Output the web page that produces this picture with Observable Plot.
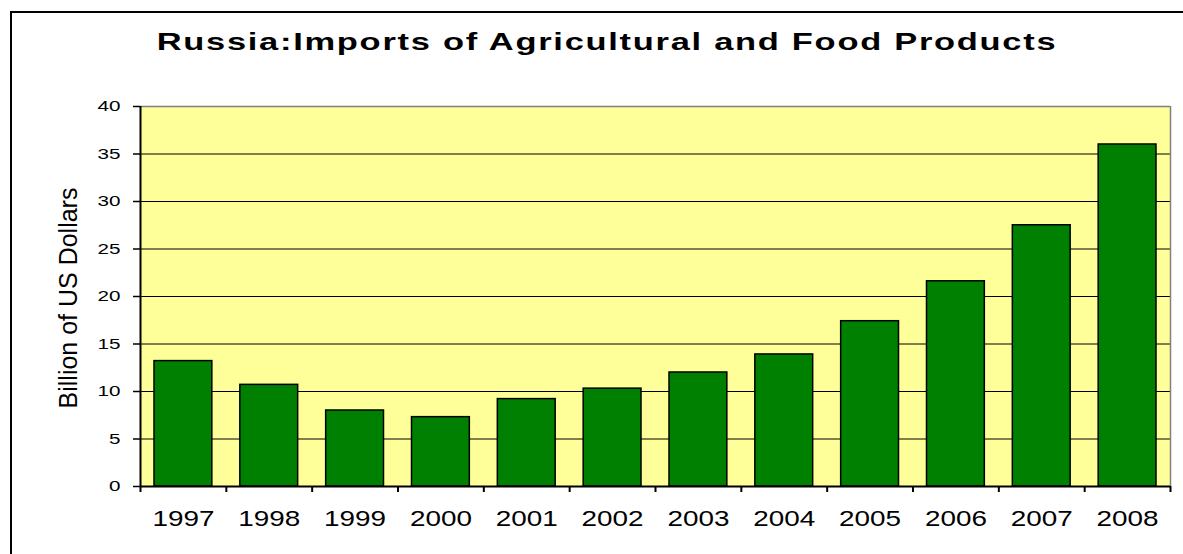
<!DOCTYPE html>
<html>
<head>
<meta charset="utf-8">
<script src="https://cdn.jsdelivr.net/npm/d3@7"></script>
<script src="https://cdn.jsdelivr.net/npm/@observablehq/plot@0.6"></script>
<style>
  html, body { margin: 0; padding: 0; background: #fff; }
  #wrap { position: relative; width: 1183px; height: 554px; overflow: hidden; background: #fff; }
  #chart { position: absolute; left: 0; top: 0; }
  #title { position: absolute; left: 607px; top: 30px; white-space: nowrap;
    font-family: "Liberation Sans", Arial, sans-serif; font-weight: bold; font-size: 24px;
    line-height: 24px; letter-spacing: 1.2px; color: #000; transform-origin: center center; }
  #ylabel { position: absolute; left: 68px; top: 298px; white-space: nowrap;
    font-family: "Liberation Sans", Arial, sans-serif; font-size: 25px; line-height: 25px; color: #000;
    transform: translate(-50%, -50%) rotate(-90deg); transform-origin: center center; }
  #frameL { position: absolute; left: 10px; top: 11px; width: 2px; height: 600px; background: #000; z-index: 2; }
  #frameT { position: absolute; left: 10px; top: 11px; width: 1200px; height: 2px; background: #000; z-index: 2; }
</style>
</head>
<body>
<div id="wrap">
  <div id="chart"></div>
  <div id="title"></div>
  <div id="ylabel"></div>
  <div id="frameL"></div>
  <div id="frameT"></div>
</div>
<script>
const years = ["1997","1998","1999","2000","2001","2002","2003","2004","2005","2006","2007","2008"];
const values = [13.2, 10.7, 8.0, 7.3, 9.2, 10.3, 12.0, 13.9, 17.4, 21.6, 27.5, 36.0];
const yTicks = [0, 5, 10, 15, 20, 25, 30, 35, 40];
const yLabel = "Billion of US Dollars";
const titleText = "Russia:Imports of Agricultural and Food Products";

const data = years.map((year, i) => ({i, year, value: values[i]}));
const font = "Liberation Sans, Arial, sans-serif";

const plot = Plot.plot({
  width: 1183,
  height: 554,
  marginLeft: 140,
  marginRight: 13,
  marginTop: 106,
  marginBottom: 68,
  style: {fontFamily: font, background: "transparent", color: "#000"},
  x: {type: "linear", domain: [0, years.length]},
  y: {domain: [0, 40]},
  marks: [
    Plot.frame({fill: "#FFFF99", stroke: "none"}),
    Plot.ruleY(yTicks.filter(d => d > 0 && d < 40), {stroke: "#000", strokeWidth: 1}),
    Plot.ruleY([40], {stroke: "#808080", strokeWidth: 1.5}),
    Plot.ruleX([years.length], {stroke: "#808080", strokeWidth: 1.5}),
    Plot.rectY(data, {x1: "i", x2: d => d.i + 1, y: "value", insetLeft: 14, insetRight: 14,
      fill: "#008000", stroke: "#000", strokeWidth: 1.5}),
    Plot.ruleX([0], {stroke: "#000", strokeWidth: 2}),
    Plot.ruleY([0], {stroke: "#000", strokeWidth: 2}),
    Plot.axisY({ticks: yTicks, tickSize: 7, tickPadding: 13, fontSize: 14.5, label: null,
      strokeWidth: 1.5, tickFormat: d => String(d)}),
    Plot.axisX({ticks: d3.range(0, years.length + 1), tickSize: 6, strokeWidth: 2,
      tickFormat: () => "", label: null}),
    Plot.axisX({ticks: data.map(d => d.i + 0.5), tickSize: 0, tickPadding: 24, fontSize: 22,
      tickFormat: v => years[Math.floor(v)], label: null})
  ]
});
document.getElementById("chart").appendChild(plot);

// stretch tick labels horizontally, like the reference's wide glyphs
d3.select(plot).selectAll('[aria-label="x-axis tick label"] text').each(function() {
  const t = this.textContent;
  if (t) { this.setAttribute("textLength", 62); this.setAttribute("lengthAdjust", "spacingAndGlyphs"); }
});
d3.select(plot).selectAll('[aria-label="y-axis tick label"] text').each(function() {
  const t = this.textContent;
  this.setAttribute("textLength", t.length * 11.5);
  this.setAttribute("lengthAdjust", "spacingAndGlyphs");
});

document.getElementById("ylabel").textContent = yLabel;
const title = document.getElementById("title");
title.textContent = titleText;
const w = title.offsetWidth;
title.style.transform = `translateX(-50%) scaleX(${900 / w})`;
</script>
</body>
</html>
